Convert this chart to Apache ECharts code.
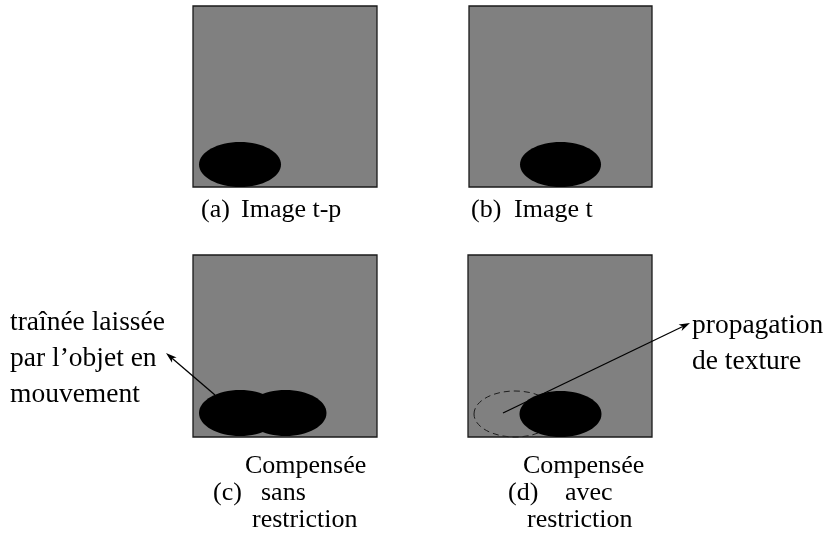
<!DOCTYPE html>
<html><head><meta charset="utf-8">
<script src="https://cdn.jsdelivr.net/npm/echarts@6/dist/echarts.min.js"></script>
<style>html,body{margin:0;padding:0;background:#fff}#c{width:830px;height:533px}</style>
</head><body><div id="c"></div>
<script>
// Diagram units: the sheet is 830 x 533 units, y grows downward.
// Image frames: [left, top, right, bottom]
const panelFrames = [
  [193, 6, 377, 187],
  [469, 6, 652, 187],
  [193, 255, 377, 437],
  [468, 255, 652, 437]
];
// Moving object: [cx, cy, rx, ry, outline (0 = solid, 1 = dashed ghost)]
const objectShapes = [
  [240, 164.5, 41, 22.5, 0],
  [560.5, 164.5, 40.5, 22.5, 0],
  [240, 413, 41, 23, 0],
  [285.5, 413, 41, 23, 0],
  [515, 414, 41, 23, 1],
  [560.5, 414, 41, 23, 0]
];
// Arrows: [x from, y from, x to, y to]
const arrowLines = [
  [215, 395, 166, 353],
  [503, 413, 690, 323]
];
// Text strings
const captionTexts = [
  '(a)', 'Image t-p', '(b)', 'Image t',
  'Compensée', '(c)', 'sans', 'restriction',
  'Compensée', '(d)', 'avec', 'restriction',
  'traînée laissée', 'par l’objet en', 'mouvement',
  'propagation', 'de texture'
];
// Text anchors: [x (left edge), y (middle), font group (0 caption, 1 figure label)]
const captionAnchors = [
  [201, 210, 0], [241, 210, 0], [471, 210, 0], [514, 210, 0],
  [245, 466, 0], [213, 493, 0], [261, 493, 0], [252, 520, 0],
  [523, 466, 0], [508, 493, 0], [565, 493, 0], [527, 520, 0],
  [10, 323, 1], [10, 359, 1], [10, 395, 1],
  [692, 326, 1], [692, 362, 1]
];

const FONTS = ['26px "Liberation Serif", "Times New Roman", serif',
               '27.5px "Liberation Serif", "Times New Roman", serif'];
const chart = echarts.init(document.getElementById('c'), null, {renderer: 'canvas'});
chart.setOption({
  animation: false,
  backgroundColor: '#ffffff',
  grid: {left: 0, right: 0, top: 0, bottom: 0, containLabel: false},
  xAxis: {type: 'value', min: 0, max: 830, show: false},
  yAxis: {type: 'value', min: 0, max: 533, inverse: true, show: false},
  series: [
    {
      type: 'custom', z: 1,
      data: panelFrames,
      renderItem: function (params, api) {
        const p0 = api.coord([api.value(0), api.value(1)]);
        const p1 = api.coord([api.value(2), api.value(3)]);
        return {type: 'rect',
          shape: {x: p0[0], y: p0[1], width: p1[0] - p0[0], height: p1[1] - p0[1]},
          style: {fill: '#808080', stroke: '#1a1a1a', lineWidth: 1.3}};
      }
    },
    {
      type: 'custom', z: 2,
      data: objectShapes,
      renderItem: function (params, api) {
        const c = api.coord([api.value(0), api.value(1)]);
        const s = api.size([api.value(2), api.value(3)]);
        const dashed = api.value(4) === 1;
        return {type: 'ellipse',
          shape: {cx: c[0], cy: c[1], rx: s[0], ry: s[1]},
          style: dashed ? {fill: 'none', stroke: '#1e1e1e', lineWidth: 1, lineDash: [6, 4]}
                        : {fill: '#000000'}};
      }
    },
    {
      type: 'custom', z: 3,
      data: arrowLines,
      renderItem: function (params, api) {
        const a = api.coord([api.value(0), api.value(1)]);
        const b = api.coord([api.value(2), api.value(3)]);
        const ang = Math.atan2(b[1] - a[1], b[0] - a[0]);
        const cs = Math.cos(ang), sn = Math.sin(ang);
        const L = 11, W = 3.5, back = 8;
        const l = [b[0] - L * cs + W * sn, b[1] - L * sn - W * cs];
        const r = [b[0] - L * cs - W * sn, b[1] - L * sn + W * cs];
        const n = [b[0] - back * cs, b[1] - back * sn];
        return {type: 'group', children: [
          {type: 'line', shape: {x1: a[0], y1: a[1], x2: n[0], y2: n[1]},
           style: {stroke: '#000', lineWidth: 1.3}},
          {type: 'polygon', shape: {points: [b, l, n, r]}, style: {fill: '#000'}}
        ]};
      }
    },
    {
      type: 'custom', z: 4,
      data: captionAnchors.map(function (a, i) { return [a[0], a[1], a[2], i]; }),
      renderItem: function (params, api) {
        const p = api.coord([api.value(0), api.value(1)]);
        return {type: 'text',
          style: {text: captionTexts[api.value(3)], x: p[0], y: p[1],
            fill: '#000', font: FONTS[api.value(2)],
            textAlign: 'left', textVerticalAlign: 'middle',
            align: 'left', verticalAlign: 'middle'}};
      }
    }
  ]
});
</script>
</body></html>
